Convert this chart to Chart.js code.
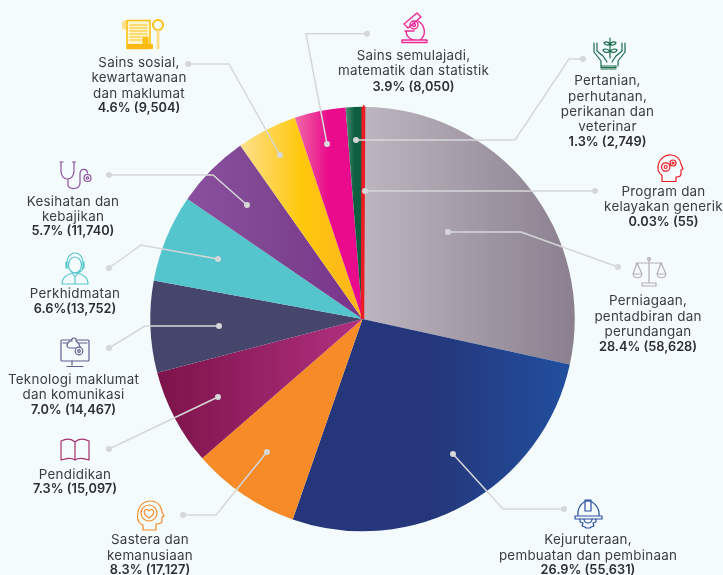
<!DOCTYPE html>
<html><head><meta charset="utf-8">
<script src="https://cdn.jsdelivr.net/npm/chart.js@4"></script>
<style>
html,body{margin:0;padding:0;background:#f4fbfd;width:723px;height:575px;overflow:hidden}
#wrap{position:relative;width:723px;height:575px}
canvas{position:absolute;left:0;top:0}
svg{position:absolute;left:0;top:0}
.l{position:absolute;white-space:nowrap;transform:translate(-50%,-50%);font:400 13.4px Inter,"Open Sans",sans-serif;letter-spacing:.25px;color:#3b3b40;line-height:15px}
.b{font-weight:600;font-size:12.8px;letter-spacing:0;color:#2d2d33}
</style></head><body>
<div id="wrap"><canvas id="c" width="723" height="575"></canvas>
<svg id="icons" width="723" height="575" fill="none" stroke-width="1.2" stroke-linecap="round" stroke-linejoin="round">
<g stroke="#fdc011">
<rect x="122" y="20.5" width="10" height="9" rx="3" fill="#ffe08a" stroke="none"/>
<rect x="127" y="20.5" width="23" height="28" fill="#fff6d0" stroke-width="1.6"/>
<path d="M130 25h17M130 28h17M130 31h17M130 34h17M130 37h11M130 40h11"/>
<rect x="143" y="37" width="5" height="7" fill="#fdc011"/>
<rect x="127" y="44" width="26" height="5" fill="#fdb913" stroke="none"/>
<circle cx="158" cy="25" r="5" stroke-width="2"/>
<path d="M158 31V48" stroke="#ffe08a" stroke-width="3"/>
</g>
<g stroke="#8a4f9e">
<path d="M61 162v9c0 5 3 8 6.500 8s6.500-3 6.500-8v-9M60 162h3M72.500 162h3M68 179v6c0 5 12 5 12-2v-9c0-6 7-6 7.500-1"/>
<circle cx="87.500" cy="178" r="3.500"/><circle cx="87.500" cy="178" r="1.200"/>
</g>
<g stroke="#54c5cc">
<ellipse cx="75" cy="265" rx="6.500" ry="8"/>
<path d="M67 267v-5a8 9 0 0 1 16 0v5M66 262v6h2M84 262v6h-2M83 268c0 3-4 5-9 5"/>
<path d="M62 284c0-7 5-9 10-11l3 4 3-4c5 2 10 4 10 11zM75 277v7"/>
</g>
<g stroke="#5a5f8f">
<rect x="61" y="340" width="28" height="21" rx="1"/>
<path d="M63 343h24M72 361v4M67 366.500h16"/>
<path d="M72 341c-1-2 1-3 2-3s3 1 2 3c4 3 4 5 4 7h-10c-3 0-5-3 0-7z" fill="#f4fbfd"/>
<circle cx="79" cy="351" r="3.800" fill="#f4fbfd"/><circle cx="79" cy="351" r="1.300"/>
</g>
<g stroke="#a3306f">
<path d="M61 441c6-3 11-2 14 1 3-3 8-4 14-1v19c-6-2-11-2-14 0-3-2-8-2-14 0zM75 442v17"/>
</g>
<g stroke="#f68b27">
<path d="M143 530v-5c-6-2-6-8-5-13 1-7 6-11 12-11 7 0 11 4 12 11l2 4-2 1v4c0 2-2 3-6 3v6z"/>
<circle cx="149" cy="513" r="8"/>
<path d="M149 518c-8-5-4-9-2-8.500 1 .2 2 1.500 2 1.500s1-1.300 2-1.500c2-.5 6 3.500-2 8.500z"/>
</g>
<g stroke="#2a4f9f">
<path d="M578 516c-1-9 5-15 10-15s12 6 11 15M575 516h27v3h-27zM585 500h6v11h-6z"/>
<path d="M580 519v3l3 1-1 3 3 1 1 1h4l1-1 3-1-1-3 3-1v-3M584 519a4 4 0 0 0 8 0"/>
</g>
<g stroke="#b4adb8">
<path d="M649 258v24M636 263h26M637 263l-4 11h9zM661 263l-4 11h9zM633 274c1 5 8 5 9 0M657 274c1 5 8 5 9 0M642 286h14v-3h-14z"/>
<circle cx="649" cy="259" r="1.500"/>
</g>
<g stroke="#ed1c24">
<path d="M662 181.500v-6c-4-3-5-8-3-13 2-5 7-8 12-7.500 6 .5 9 4 10 9l2 5-2 1v4c0 2-2 3-5 3v4.500z"/>
<circle cx="665.700" cy="167" r="4.200"/><circle cx="665.700" cy="167" r="1.500"/><circle cx="673" cy="163" r="3"/><circle cx="673" cy="163" r="1"/>
</g>
<g stroke="#1a6b4c">
<path d="M594 43v9l7 9v5M597 43v8l6 5 4 6M625 43v9l-7 9v5M622 43v8l-6 5-4 6M601 66h15v1.500h-15zM601 69h15"/>
<path d="M610 38v20M610 44c-3-3-5-2-6-1 1 2 4 3 6 1zM610 44c3-3 5-2 6-1-1 2-4 3-6 1zM610 51c-4-3-6-2-7-1 1 3 5 3 7 1zM610 51c4-3 6-2 7-1-1 3-5 3-7 1z"/>
</g>
<g stroke="#ec2a96" stroke-width="1.400">
<path d="M404 24L417 13l4 4-13 11zM402 40h25v2.500h-25zM418 21c7 4 9 14 2 19M405 31h9M406 31c0 5 4 9 9 9"/>
<circle cx="414" cy="25" r="4"/><circle cx="414" cy="25" r="1.500"/>
</g>
</svg>
</div>
<script>
const categories=["Perniagaan, pentadbiran dan perundangan","Kejuruteraan, pembuatan dan pembinaan","Sastera dan kemanusiaan","Pendidikan","Teknologi maklumat dan komunikasi","Perkhidmatan","Kesihatan dan kebajikan","Sains sosial, kewartawanan dan maklumat","Sains semulajadi, matematik dan statistik","Pertanian, perhutanan, perikanan dan veterinar","Program dan kelayakan generik"];
const values=[58628,55631,17127,15097,14467,13752,11740,9504,8050,2749,55];
const sliceStops=[
 ["#bdb6c0","#8a7f8e"],
 ["#25377a","#25377a","#214f9f"],
 ["#f68b27"],
 ["#7c1349","#b13080"],
 ["#46466d"],
 ["#54c5cc"],
 ["#8a509f","#7e4590","#7b338c"],
 ["#fde08f","#ffc80c","#fbb41e"],
 ["#f16ba8","#ea0b8c","#ea0b8c"],
 ["#4f9074","#0d5f40","#0d5f40"],
 ["#ed1c24"]];
const rotationDeg=0.3;
const labelBlocks=[
 {x:139,y:[62,77,92.5,107],t:["Sains sosial,","kewartawanan","dan maklumat","4.6% (9,504)"]},
 {x:73,y:[201,215.5,230],t:["Kesihatan dan","kebajikan","5.7% (11,740)"]},
 {x:75,y:[293,308],t:["Perkhidmatan","6.6%(13,752)"]},
 {x:73.5,y:[379,394,408.5],t:["Teknologi maklumat","dan komunikasi","7.0% (14,467)"]},
 {x:75,y:[473.5,488],t:["Pendidikan","7.3% (15,097)"]},
 {x:150,y:[539,554.5,569],t:["Sastera dan","kemanusiaan","8.3% (17,127)"]},
 {x:588,y:[539,554.5,569],t:["Kejuruteraan,","pembuatan dan pembinaan","26.9% (55,631)"]},
 {x:648,y:[300,315.5,331,345.5],t:["Perniagaan,","pentadbiran dan","perundangan","28.4% (58,628)"]},
 {x:663.5,y:[191,205.5,220.5],t:["Program dan","kelayakan generik","0.03% (55)"]},
 {x:607.5,y:[80,95.5,110.5,125.5,140.5],t:["Pertanian,","perhutanan,","perikanan dan","veterinar","1.3% (2,749)"]},
 {x:413.5,y:[54.5,70,85.5],t:["Sains semulajadi,","matematik dan statistik","3.9% (8,050)"]}];
const leaderPaths=[
 [[188,64],[229,64],[280,155]],
 [[109,175],[213,175],[247,205]],
 [[109,268],[141,245],[218,259]],
 [[109,348],[145,326],[219,326]],
 [[109,449],[218,397]],
 [[183,515],[216,515],[267,452]],
 [[564,509],[503,509],[453,454]],
 [[618,267],[521,232],[448,232]],
 [[595,191],[365,191]],
 [[583,59],[569,59],[515,140],[356,140]],
 [[367,33.700],[306,33.700],[327,144]]];
const wrap=document.getElementById('wrap');
labelBlocks.forEach(b=>b.t.forEach((s,i)=>{
 const d=document.createElement('div');d.className='l'+(i===b.t.length-1?' b':'');
 d.textContent=s;d.style.left=b.x+'px';d.style.top=b.y[i]+'px';wrap.appendChild(d);}));
const total=values.reduce((a,b)=>a+b,0);
function sliceFill(ctx){
 const i=ctx.dataIndex,stops=sliceStops[i],chart=ctx.chart;
 if(i===undefined||!stops)return '#888';
 if(stops.length===1||!chart.chartArea)return stops[0];
 const ca=chart.chartArea,cx=(ca.left+ca.right)/2,r=Math.min(ca.right-ca.left,ca.bottom-ca.top)/2;
 let sum=0;for(let k=0;k<i;k++)sum+=values[k];
 const a0=rotationDeg*Math.PI/180+sum/total*2*Math.PI,a1=a0+values[i]/total*2*Math.PI;
 const xs=[0,Math.sin(a0),Math.sin(a1)];
 if(a0<Math.PI/2&&a1>Math.PI/2)xs.push(1);
 if(a0<1.5*Math.PI&&a1>1.5*Math.PI)xs.push(-1);
 const g=chart.ctx.createLinearGradient(cx+r*Math.min(...xs),0,cx+r*Math.max(...xs),0);
 stops.forEach((c,k)=>g.addColorStop(k/(stops.length-1),c));
 return g;
}
const leaders={id:'leaders',afterDraw(chart){
 const c=chart.ctx;c.save();c.strokeStyle='#d6d7d9';c.fillStyle='#d6d7d9';c.lineWidth=1.5;
 leaderPaths.forEach(p=>{c.beginPath();p.forEach((q,i)=>i?c.lineTo(q[0],q[1]):c.moveTo(q[0],q[1]));c.stroke();
  [p[0],p[p.length-1]].forEach(q=>{c.beginPath();c.arc(q[0],q[1],3,0,7);c.fill();});});
 c.restore();}};
new Chart(document.getElementById('c'),{type:'pie',plugins:[leaders],
 data:{labels:categories,datasets:[{data:values,backgroundColor:sliceFill,
  borderWidth:values.map((v,i)=>i===values.length-1?3.5:0),borderColor:'#ed1c24',hoverOffset:0}]},
 options:{responsive:false,animation:false,rotation:rotationDeg,
  layout:{padding:{left:148.500,right:146.500,top:105,bottom:42}},
  plugins:{legend:{display:false},tooltip:{enabled:false},title:{display:false}},events:[]}});
</script></body></html>
